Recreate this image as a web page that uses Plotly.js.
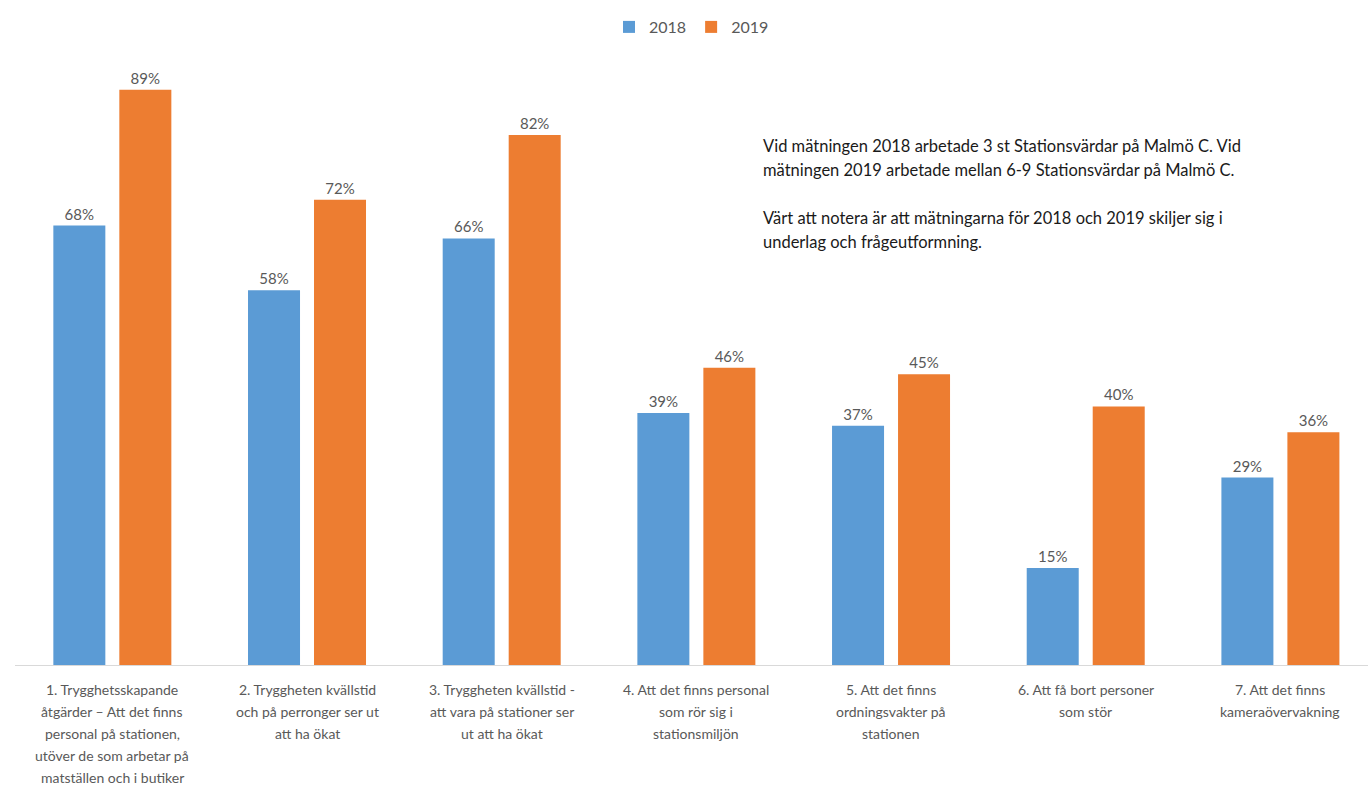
<!DOCTYPE html>
<html>
<head>
<meta charset="utf-8">
<script src="https://cdn.plot.ly/plotly-3.0.1.min.js"></script>
<style>html,body{margin:0;padding:0;background:#fff;}#chart{width:1368px;height:785px;}</style>
</head>
<body>
<div id="chart"></div>
<script>
const categories = [
  "1. Trygghetsskapande<br>åtgärder – Att det finns<br>personal på stationen,<br>utöver de som arbetar på<br>matställen och i butiker",
  "2. Tryggheten kvällstid<br>och på perronger ser ut<br>att ha ökat",
  "3. Tryggheten kvällstid -<br>att vara på stationer ser<br>ut att ha ökat",
  "4. Att det finns personal<br>som rör sig i<br>stationsmiljön",
  "5. Att det finns<br>ordningsvakter på<br>stationen",
  "6. Att få bort personer<br>som stör",
  "7. Att det finns<br>kameraövervakning"
];
const values2018 = [68, 58, 66, 39, 37, 15, 29];
const values2019 = [89, 72, 82, 46, 45, 40, 36];
const seriesNames = ["2018", "2019"];
const noteLines = [
  "Vid mätningen 2018 arbetade 3 st Stationsvärdar på Malmö C. Vid",
  "mätningen 2019 arbetade mellan 6-9 Stationsvärdar på Malmö C.",
  "",
  "Värt att notera är att mätningarna för 2018 och 2019 skiljer sig i",
  "underlag och frågeutformning."
];

const FONT = "Lato, 'Open Sans', 'Liberation Sans', sans-serif";
const idx = categories.map((_, i) => i);

// plot geometry
const M = {l: 15, r: 0, t: 51, b: 120};
const W = 1368, H = 785;
const plotH = H - M.t - M.b;

const traces = [
  {type: "bar", name: seriesNames[0], x: idx, y: values2018,
   marker: {color: "#5B9BD5"},
   text: values2018.map(v => v + "%"), textposition: "outside", cliponaxis: false,
   textfont: {size: 15, color: "#595959", family: FONT}, hoverinfo: "skip"},
  {type: "bar", name: seriesNames[1], x: idx, y: values2019,
   marker: {color: "#ED7D31"},
   text: values2019.map(v => v + "%"), textposition: "outside", cliponaxis: false,
   textfont: {size: 15, color: "#595959", family: FONT}, hoverinfo: "skip"}
];

const annotations = [];
// category labels, one annotation per line for Excel-like line spacing
categories.forEach((c, i) => {
  c.split("<br>").forEach((line, j) => {
    annotations.push({
      xref: "x", yref: "paper", x: i, y: -(24 + 22 * j) / plotH,
      xanchor: "center", yanchor: "middle", showarrow: false,
      text: line, font: {size: 14, color: "#595959", family: FONT}
    });
  });
});
// note text
noteLines.forEach((line, j) => {
  if (!line) return;
  annotations.push({
    xref: "paper", yref: "paper", x: (761 - M.l) / (W - M.l - M.r),
    y: (H - M.b - (146 + 24 * j)) / plotH,
    xanchor: "left", yanchor: "middle", showarrow: false, align: "left",
    text: line, font: {size: 16.5, color: "#1a1a1a", family: FONT}
  });
});

const layout = {
  width: W, height: H,
  margin: M,
  paper_bgcolor: "#fff", plot_bgcolor: "#fff",
  font: {family: FONT, color: "#595959"},
  barmode: "group", bargap: 0.322, bargroupgap: 0.212,
  xaxis: {
    range: [-0.5, 6.45], tickmode: "array", tickvals: idx, showticklabels: false,
    showline: true, linecolor: "#d9d9d9", linewidth: 1, showgrid: false, zeroline: false,
    ticks: "", fixedrange: true
  },
  yaxis: {range: [0, 95], visible: false, showgrid: false, zeroline: false, fixedrange: true},
  showlegend: true,
  legend: {orientation: "h", x: 0.5, xanchor: "center", y: (H - M.b - 27) / plotH, yanchor: "middle",
           font: {size: 16, color: "#595959", family: FONT}, traceorder: "normal",
           bgcolor: "rgba(0,0,0,0)"},
  annotations: annotations
};

Plotly.newPlot("chart", traces, layout, {displayModeBar: false, staticPlot: true});
</script>
</body>
</html>
